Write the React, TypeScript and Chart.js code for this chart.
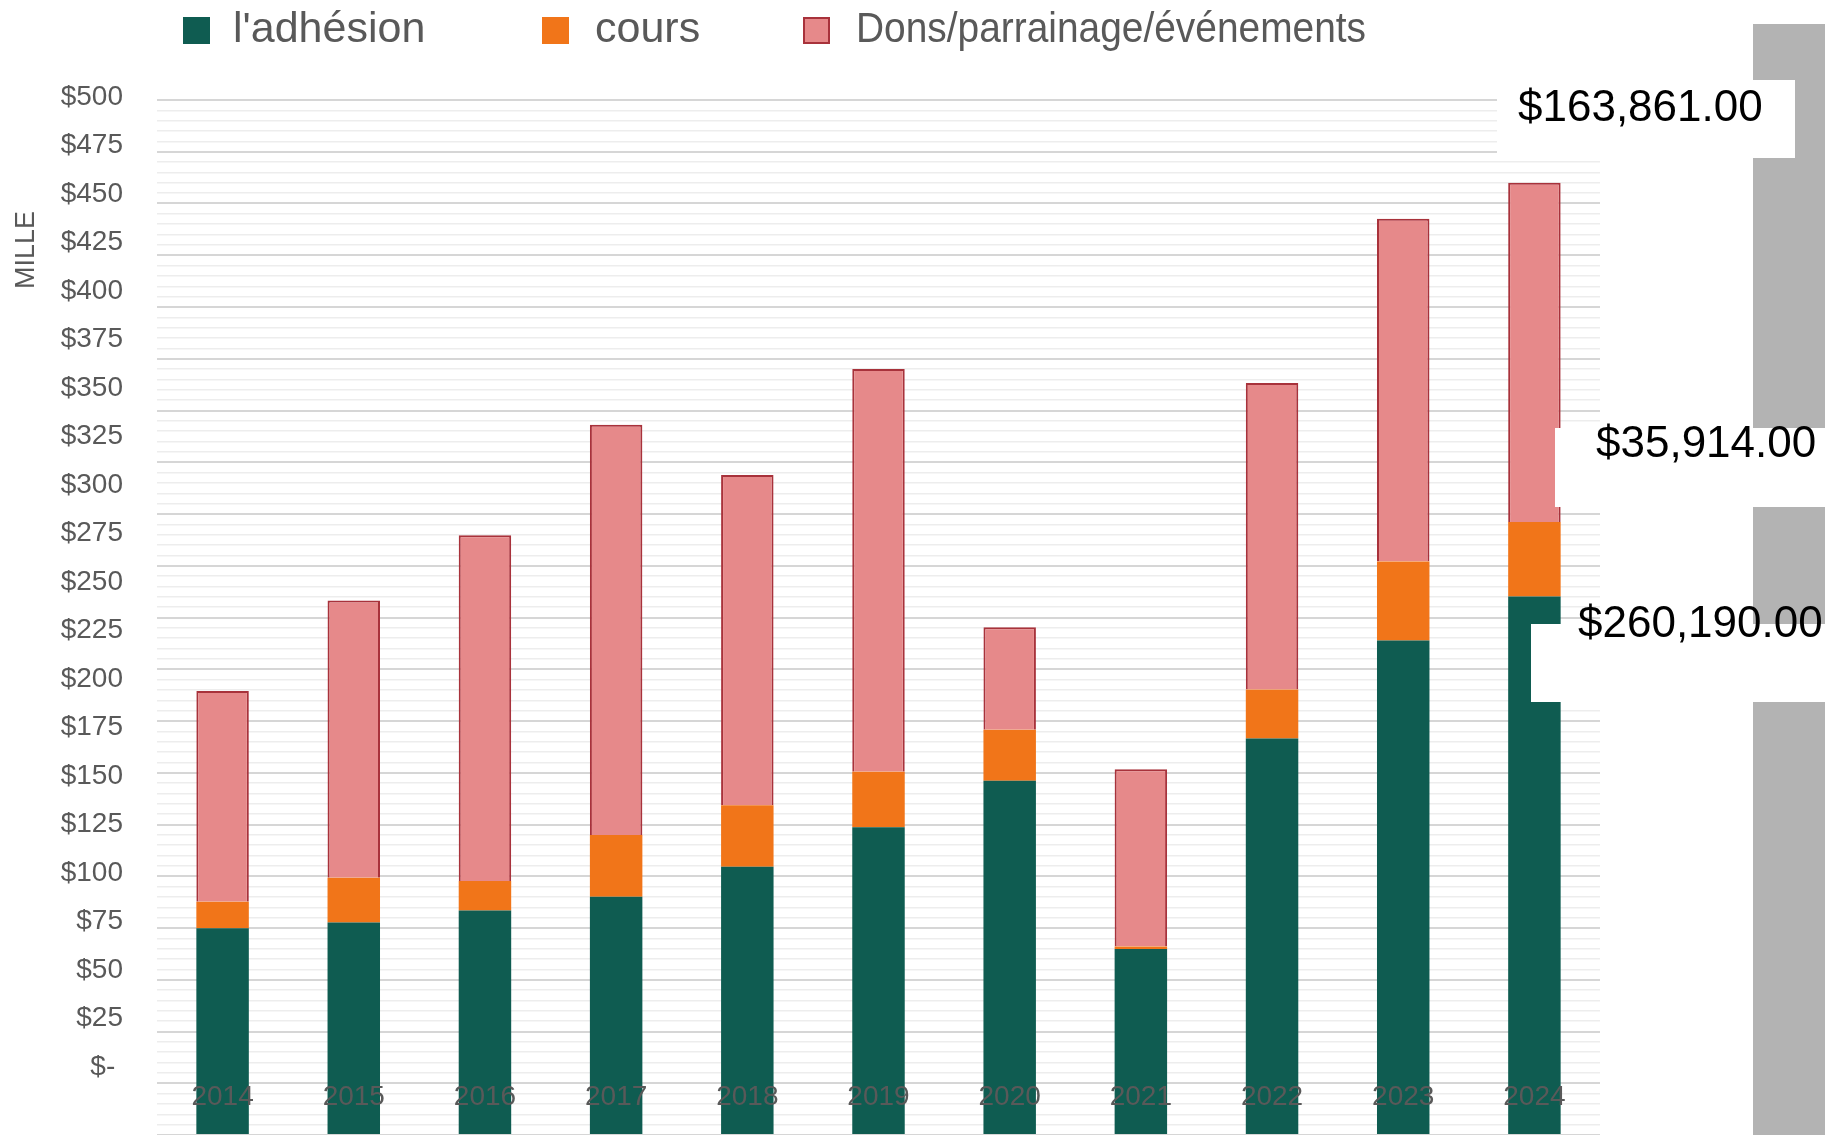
import React, { useEffect, useRef } from "react";
import { Chart, registerables } from "chart.js";

Chart.register(...registerables);

const years = ["2014", "2015", "2016", "2017", "2018", "2019", "2020", "2021", "2022", "2023", "2024"];
const adhesion = [99.9, 102.6, 108.4, 115.1, 129.6, 148.7, 171.1, 89.9, 191.6, 238.9, 260.19];
const cours = [12.8, 21.7, 14.3, 29.8, 29.7, 26.8, 24.7, 1.2, 23.6, 38.1, 35.914];
const dons = [101.8, 133.9, 167.0, 198.2, 159.6, 194.6, 49.5, 85.6, 148.1, 165.6, 163.861];
const seriesLabels = ["l'adhésion", "cours", "Dons/parrainage/événements"];
const yTickValues = [0, 25, 50, 75, 100, 125, 150, 175, 200, 225, 250, 275, 300, 325, 350, 375, 400, 425, 450, 475, 500];
const axisTitle = "MILLE";

const FONT = '"Liberation Sans", Arial, sans-serif';
const GREEN = "#0f5c51";
const ORANGE = "#f17519";
const PINK = "#e6898a";
const PINK_BORDER = "#a8323b";
const GREY_TEXT = "#595959";

const fmtMoney = (v: number) =>
  "$" + (v * 1000).toLocaleString("en-US", { minimumFractionDigits: 2, maximumFractionDigits: 2 });

const overlayPlugin = {
  id: "overlay",
  afterDraw(chart: any) {
    const ctx: CanvasRenderingContext2D = chart.ctx;
    ctx.save();
    // grey band on the right
    ctx.fillStyle = "#b3b3b3";
    ctx.fillRect(1753, 24, 72, 1111);

    // legend
    const legendItems = [
      { x: 183, tx: 233, fill: GREEN, stroke: null as string | null, maxW: 0 },
      { x: 542, tx: 595, fill: ORANGE, stroke: null as string | null, maxW: 0 },
      { x: 803, tx: 856, fill: PINK, stroke: PINK_BORDER, maxW: 510 },
    ];
    ctx.font = `43px ${FONT}`;
    ctx.textBaseline = "alphabetic";
    ctx.textAlign = "left";
    legendItems.forEach((it, i) => {
      ctx.fillStyle = it.fill;
      ctx.fillRect(it.x, 17, 27, 27);
      if (it.stroke) {
        ctx.strokeStyle = it.stroke;
        ctx.lineWidth = 2;
        ctx.strokeRect(it.x + 1, 18, 25, 25);
      }
      ctx.fillStyle = GREY_TEXT;
      if (it.maxW) ctx.fillText(seriesLabels[i], it.tx, 42, it.maxW);
      else ctx.fillText(seriesLabels[i], it.tx, 42);
    });

    // axis title
    ctx.save();
    ctx.translate(27, 250);
    ctx.rotate(-Math.PI / 2);
    ctx.font = `27px ${FONT}`;
    ctx.textAlign = "center";
    ctx.textBaseline = "middle";
    ctx.fillStyle = GREY_TEXT;
    ctx.fillText(axisTitle, 0, 0);
    ctx.restore();

    // data labels of the last year
    const last = years.length - 1;
    const labels = [
      { v: dons[last], box: [1497, 80, 298, 78], tx: 1518, ty: 121 },
      { v: cours[last], box: [1555, 428, 270, 79], tx: 1596, ty: 457 },
      { v: adhesion[last], box: [1531, 624, 294, 78], tx: 1578, ty: 637 },
    ];
    ctx.font = `44px ${FONT}`;
    ctx.textAlign = "left";
    ctx.textBaseline = "alphabetic";
    labels.forEach((l) => {
      ctx.fillStyle = "#ffffff";
      ctx.fillRect(l.box[0], l.box[1], l.box[2], l.box[3]);
    });
    labels.forEach((l) => {
      ctx.fillStyle = "#000000";
      ctx.fillText(fmtMoney(l.v), l.tx, l.ty);
    });
    ctx.restore();
  },
};

export default function App() {
  const ref = useRef<HTMLCanvasElement | null>(null);

  useEffect(() => {
    document.body.style.margin = "0";
    const canvas = ref.current;
    if (!canvas) return;
    const chart = new Chart(canvas, {
      type: "bar",
      data: {
        labels: years,
        datasets: [
          {
            label: seriesLabels[0],
            data: adhesion,
            backgroundColor: GREEN,
            borderWidth: 0,
          },
          {
            label: seriesLabels[1],
            data: cours,
            backgroundColor: ORANGE,
            borderWidth: 0,
          },
          {
            label: seriesLabels[2],
            data: dons,
            backgroundColor: PINK,
            borderColor: PINK_BORDER,
            borderWidth: 2,
          },
        ],
      },
      options: {
        responsive: false,
        devicePixelRatio: 1,
        animation: false,
        datasets: { bar: { barPercentage: 0.4, categoryPercentage: 1 } },
        layout: { padding: { top: 100, right: 225, bottom: 0, left: 0 } },
        plugins: {
          legend: { display: false },
          tooltip: { enabled: false },
          title: { display: false },
        },
        scales: {
          x: {
            stacked: true,
            grid: { display: false },
            border: { display: false },
            ticks: {
              z: 1,
              mirror: true,
              padding: 21,
              color: GREY_TEXT,
              font: { family: FONT, size: 28 },
              maxRotation: 0,
              autoSkip: false,
            },
            afterFit: (s: any) => {
              s.height = 0;
              s.paddingTop = 0;
              s.paddingBottom = 0;
            },
          },
          y: {
            stacked: true,
            min: 0,
            max: 500,
            position: "left",
            border: { display: false },
            ticks: { display: false, stepSize: 5 },
            grid: {
              drawTicks: false,
              color: (c: any) => {
                const v = c.tick ? c.tick.value : 0;
                return Math.abs(v % 25) < 1e-6 ? "#d6d6d6" : "#ededed";
              },
              lineWidth: (c: any) => {
                const v = c.tick ? c.tick.value : 0;
                return Math.abs(v % 25) < 1e-6 ? 2 : 1.5;
              },
            },
            afterFit: (s: any) => {
              s.width = 0;
              s.paddingTop = 0;
              s.paddingBottom = 0;
            },
          },
          y2: {
            type: "linear",
            position: "left",
            min: -35.05,
            max: 498.45,
            grid: { display: false, drawTicks: false },
            border: { display: false },
            ticks: {
              padding: 34,
              autoSkip: false,
              color: GREY_TEXT,
              font: { family: FONT, size: 28 },
              callback: (v: any) => (Number(v) === 0 ? "$- " : "$" + v),
            },
            afterBuildTicks: (s: any) => {
              s.ticks = yTickValues.map((v) => ({ value: v }));
            },
            afterFit: (s: any) => {
              s.width = 157;
              s.paddingTop = 0;
              s.paddingBottom = 0;
            },
          },
        },
      },
      plugins: [overlayPlugin],
    } as any);
    return () => chart.destroy();
  }, []);

  return (
    <div style={{ position: "fixed", left: 0, top: 0, width: 1825, height: 1135, overflow: "hidden", background: "#fff" }}>
      <canvas ref={ref} width={1825} height={1135} style={{ display: "block", width: 1825, height: 1135 }} />
    </div>
  );
}
